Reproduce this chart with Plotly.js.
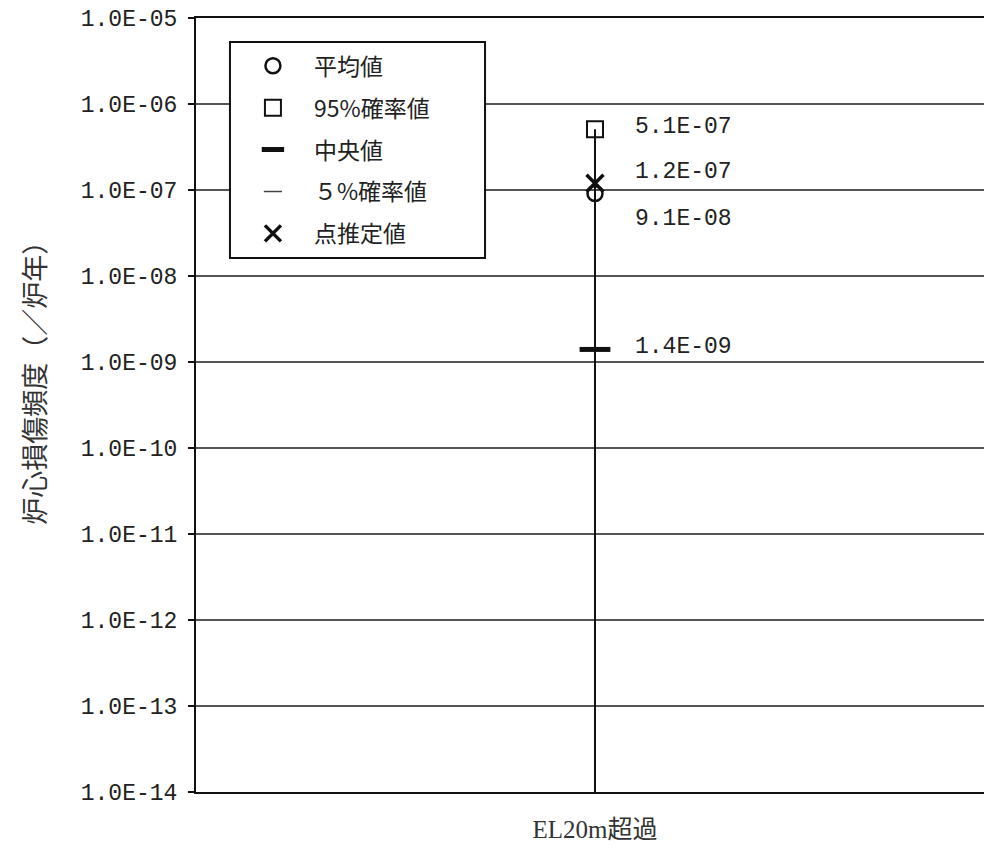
<!DOCTYPE html>
<html>
<head>
<meta charset="utf-8">
<script src="https://cdn.plot.ly/plotly-3.0.1.min.js"></script>
<style>html,body{margin:0;padding:0;background:#fff;overflow:hidden;}#chart{width:984px;height:848px;}</style>
</head>
<body>
<div id="chart"></div>
<script>
// ---- data ----
const categories = ['EL20m超過'];
const meanVals = [9.1e-8];     // 平均値
const p95Vals = [5.1e-7];      // 95%確率値
const medianVals = [1.4e-9];   // 中央値
const p5Vals = [5.0e-15];      // 5%確率値 (below the axis range)
const pointVals = [1.2e-7];    // 点推定値
const seriesNames = ['平均値', '95%確率値', '中央値', '５%確率値', '点推定値'];
const yTickVals = [1e-14, 1e-13, 1e-12, 1e-11, 1e-10, 1e-9, 1e-8, 1e-7, 1e-6, 1e-5];
const yTickText = ['1.0E-14', '1.0E-13', '1.0E-12', '1.0E-11', '1.0E-10', '1.0E-09', '1.0E-08', '1.0E-07', '1.0E-06', '1.0E-05'];
const yTitle = '炉心損傷頻度（／炉年）';

function fmt(v) {
  const s = v.toExponential(1).split('e');
  const e = parseInt(s[1], 10);
  const sign = e < 0 ? '-' : '+';
  const a = Math.abs(e);
  return s[0] + 'E' + sign + (a < 10 ? '0' + a : String(a));
}

const blk = '#111';
const traces = [
  { // range line 95% -> 5%
    x: [categories[0], categories[0]], y: [p95Vals[0], p5Vals[0]],
    mode: 'lines', line: {color: blk, width: 2}, showlegend: false, hoverinfo: 'skip'
  },
  { name: seriesNames[0], x: categories, y: meanVals, mode: 'markers', legendgroup: 'a',
    marker: {symbol: 'circle-open', size: 15, color: blk, line: {width: 2.5, color: blk}} },
  { name: seriesNames[1], x: categories, y: p95Vals, mode: 'markers', legendgroup: 'b',
    marker: {symbol: 'square-open', size: 16, color: blk, line: {width: 2, color: blk}} },
  { name: seriesNames[2], x: categories, y: medianVals, mode: 'markers', legendgroup: 'c',
    marker: {symbol: 'line-ew', size: 22, color: blk, line: {width: 5, color: blk}} },
  { name: seriesNames[3], x: categories, y: p5Vals, mode: 'markers', legendgroup: 'd',
    marker: {symbol: 'line-ew', size: 13, color: '#444', line: {width: 1.5, color: '#444'}} },
  { name: seriesNames[4], x: categories, y: pointVals, mode: 'markers', legendgroup: 'e',
    marker: {symbol: 'x-thin-open', size: 17, color: blk, line: {width: 3.5, color: blk}} }
];

const labelFont = {family: 'Liberation Mono, monospace', size: 23, color: '#222'};
const labelSpecs = [
  {v: p95Vals[0], dy: 2},
  {v: pointVals[0], dy: 11},
  {v: meanVals[0], dy: -25},
  {v: medianVals[0], dy: 2}
];
const annotations = labelSpecs.map(s => ({
  x: categories[0], y: Math.log10(s.v), xref: 'x', yref: 'y',
  text: fmt(s.v), showarrow: false, xanchor: 'left', yanchor: 'middle',
  xshift: 38, yshift: s.dy, font: labelFont
}));
annotations.push({
  x: -0.206, y: 0.5375, xref: 'paper', yref: 'paper', text: yTitle, textangle: -90,
  showarrow: false, xanchor: 'center', yanchor: 'middle',
  font: {family: 'Noto Sans CJK JP, sans-serif', size: 27, color: '#333'}
});

// legend frame (box behind the legend entries)
const legendFrame = {
  type: 'rect', xref: 'paper', yref: 'paper', layer: 'above',
  x0: 0.0431, x1: 0.3668, y0: 0.690, y1: 0.969,
  fillcolor: '#fff', line: {color: blk, width: 2}
};

const layout = {
  width: 984, height: 848,
  margin: {l: 196, r: 0, t: 18, b: 56},
  paper_bgcolor: '#fff', plot_bgcolor: '#fff',
  showlegend: true,
  legend: {
    x: 0.0456, y: 0.966, xanchor: 'left', yanchor: 'top',
    bgcolor: 'rgba(0,0,0,0)', borderwidth: 0,
    font: {family: 'Noto Sans CJK JP, sans-serif', size: 23, color: '#222'},
    traceorder: 'grouped', tracegroupgap: 9, itemwidth: 72
  },
  shapes: [legendFrame],
  xaxis: {
    type: 'category', range: [-0.5, 0.4875],
    showline: true, linecolor: blk, linewidth: 2, mirror: true,
    showgrid: false, ticks: '', zeroline: false, ticklabelstandoff: 14,
    tickfont: {family: 'Liberation Serif, Noto Sans CJK JP, serif', size: 25, color: '#333'}
  },
  yaxis: {
    type: 'log', range: [-14, -5],
    tickmode: 'array', tickvals: yTickVals, ticktext: yTickText,
    showline: true, linecolor: blk, linewidth: 2, mirror: false,
    ticks: 'outside', ticklen: 6, tickwidth: 2, tickcolor: blk, ticklabelstandoff: 6,
    showgrid: true, gridcolor: '#555', gridwidth: 1.5, zeroline: false,
    tickfont: {family: 'Liberation Mono, monospace', size: 23, color: '#222'}
  },
  annotations: annotations
};

Plotly.newPlot('chart', traces, layout, {displayModeBar: false, staticPlot: true});
</script>
</body>
</html>
